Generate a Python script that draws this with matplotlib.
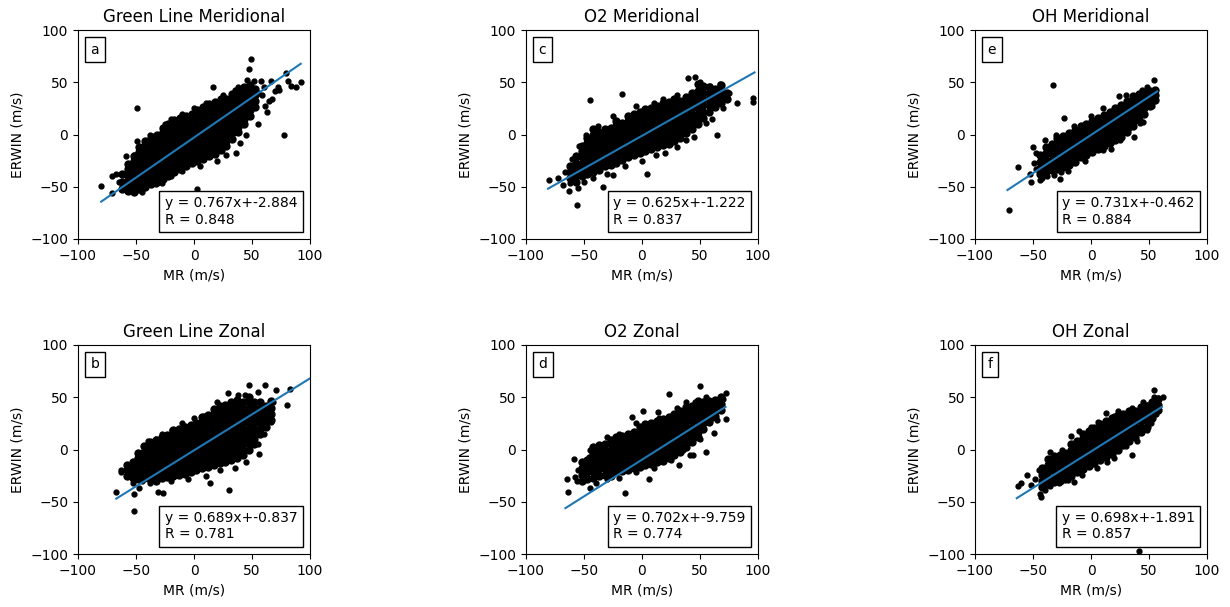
import matplotlib
matplotlib.use("Agg")
import matplotlib.pyplot as plt
from matplotlib.offsetbox import AnchoredText

# ---------------- data ----------------
titles = ["Green Line Meridional", "Green Line Zonal", "O2 Meridional",
          "O2 Zonal", "OH Meridional", "OH Zonal"]
letters = ["a", "b", "c", "d", "e", "f"]
slopes = [0.767, 0.689, 0.625, 0.702, 0.731, 0.698]
intercepts = [-2.884, -0.837, -1.222, -9.759, -0.462, -1.891]
r_values = [0.848, 0.781, 0.837, 0.774, 0.884, 0.857]
fit_ranges = [(-80, 92), (-67, 100), (-81, 97), (-66, 72), (-72, 57), (-64, 61)]

# dense cores: (MR column, [ERWIN values])
gl_mer_core = [
    (-62, [-52, -45, -38]),
    (-57, [-54, -49, -44, -39, -33, -28]),
    (-52, [-55, -50, -45, -40, -35, -30, -25, -21]),
    (-47, [-52, -47, -42, -37, -32, -27, -22, -17, -12]),
    (-42, [-50, -45, -40, -35, -30, -25, -20, -15, -10, -6]),
    (-37, [-47, -42, -37, -32, -27, -22, -17, -12, -7, -3]),
    (-32, [-45, -40, -35, -30, -25, -20, -15, -10, -5, 0]),
    (-27, [-43, -38, -33, -28, -23, -18, -13, -8, -3, 2, 6]),
    (-22, [-40, -35, -30, -25, -20, -15, -10, -5, 0, 5, 10]),
    (-17, [-36, -31, -26, -21, -16, -11, -6, -1, 4, 9, 14]),
    (-12, [-33, -28, -23, -18, -13, -8, -3, 2, 7, 12, 16]),
    (-7, [-30, -25, -20, -15, -10, -5, 0, 5, 10, 15, 18]),
    (-2, [-27, -22, -17, -12, -7, -2, 3, 8, 13, 18, 20]),
    (3, [-25, -20, -15, -10, -5, 0, 5, 10, 15, 20, 23]),
    (8, [-23, -18, -13, -8, -3, 2, 7, 12, 17, 22, 26]),
    (13, [-21, -16, -11, -6, -1, 4, 9, 14, 19, 24, 29]),
    (18, [-19, -14, -9, -4, 1, 6, 11, 16, 21, 26, 31]),
    (23, [-15, -10, -5, 0, 5, 10, 15, 20, 25, 30, 34]),
    (28, [-11, -6, -1, 4, 9, 14, 19, 24, 29, 34]),
    (33, [-4, 1, 6, 11, 16, 21, 26, 31, 36, 39]),
    (38, [2, 7, 12, 17, 22, 27, 32, 37, 41]),
    (43, [10, 15, 20, 25, 30, 35, 40, 45]),
    (48, [18, 23, 28, 33, 38, 43, 47]),
    (53, [26, 32, 38, 44]),
]
gl_mer_out = [(49, 72), (47, 63), (46, 52), (52, 51), (58, 51), (66, 51), (79, 59), (81, 51),
              (84, 46), (88, 45), (92, 50), (73, 43), (70, 42), (78, 0), (-49, 25), (16, 45),
              (35, 43), (36, -18), (3, -52), (-80, -49), (-71, -56), (-71, -40), (-67, -38),
              (-59, -21), (-49, -6), (63, 22), (61, 27), (67, 34), (59, 38), (-35, -1),
              (-65, -45), (-62, -50), (-58, -53), (-45, -55), (-40, -45), (-33, -47), (-28, -46),
              (-20, -40), (-10, -35), (5, -30), (20, -25), (28, -20), (40, -8), (45, 0), (55, 10),
              (-20, 15), (-10, 20), (0, 25), (10, 30), (25, 38), (38, 45), (60, 45), (65, 32),
              (72, 45), (55, 40), (-52, -20), (-38, 0), (-25, 10)]

gl_zon_core = [
    (-58, [-25, -20, -15]),
    (-53, [-27, -22, -17, -12]),
    (-48, [-28, -23, -18, -13, -8, -3]),
    (-43, [-27, -22, -17, -12, -7, -2, 3]),
    (-38, [-28, -23, -18, -13, -8, -3, 2, 7]),
    (-33, [-30, -25, -20, -15, -10, -5, 0, 5, 9]),
    (-28, [-27, -22, -17, -12, -7, -2, 3, 8, 12]),
    (-23, [-26, -21, -16, -11, -6, -1, 4, 9, 14]),
    (-18, [-25, -20, -15, -10, -5, 0, 5, 10, 15, 19]),
    (-13, [-24, -19, -14, -9, -4, 1, 6, 11, 16, 20]),
    (-8, [-23, -18, -13, -8, -3, 2, 7, 12, 17, 22]),
    (-3, [-22, -17, -12, -7, -2, 3, 8, 13, 18, 23]),
    (2, [-20, -15, -10, -5, 0, 5, 10, 15, 20, 25]),
    (7, [-18, -13, -8, -3, 2, 7, 12, 17, 22, 27, 31]),
    (12, [-17, -12, -7, -2, 3, 8, 13, 18, 23, 28, 33]),
    (17, [-15, -10, -5, 0, 5, 10, 15, 20, 25, 30, 35, 39]),
    (22, [-13, -8, -3, 2, 7, 12, 17, 22, 27, 32, 37, 42]),
    (27, [-12, -7, -2, 3, 8, 13, 18, 23, 28, 33, 38, 43]),
    (32, [-10, -5, 0, 5, 10, 15, 20, 25, 30, 35, 40, 45]),
    (37, [-8, -3, 2, 7, 12, 17, 22, 27, 32, 37, 42, 47]),
    (42, [-5, 0, 5, 10, 15, 20, 25, 30, 35, 40, 45]),
    (47, [0, 5, 10, 15, 20, 25, 30, 35, 40, 45, 50]),
    (52, [5, 10, 15, 20, 25, 30, 35, 40, 45]),
    (57, [15, 20, 25, 30, 35, 40, 45]),
    (62, [22, 27, 32, 37, 42]),
    (66, [28, 34, 40, 46]),
]
gl_zon_out = [(47, 62), (61, 62), (71, 57), (83, 58), (80, 43), (64, 41), (66, 26), (56, -4),
              (30, -39), (14, -32), (-27, -42), (-31, -41), (-52, -59), (-67, -41), (-63, -20),
              (-57, -15), (-52, -25), (-53, -32), (-52, -43), (-47, -37), (-33, 10), (-19, 19),
              (29, 54), (9, 32), (44, 52), (-63, -22), (-45, -30), (-38, -32), (-20, -30),
              (-5, -28), (10, -25), (22, -20), (35, -18), (45, -12), (55, 5), (60, 15), (65, 35),
              (68, 45), (55, 55), (38, 52), (20, 45), (0, 30), (-10, 25), (-28, 15), (-40, 8),
              (-45, -5)]

o2_mer_core = [
    (-62, [-42, -36, -30]),
    (-57, [-45, -39, -33, -27, -21]),
    (-52, [-40, -34, -28, -22, -16, -11]),
    (-47, [-38, -32, -26, -20, -14, -8, -3]),
    (-42, [-36, -30, -24, -18, -12, -6, 0, 5]),
    (-37, [-34, -28, -22, -16, -10, -4, 2]),
    (-32, [-30, -25, -20, -15, -10, -5, 0, 5]),
    (-27, [-29, -24, -19, -14, -9, -4, 1, 6]),
    (-22, [-27, -22, -17, -12, -7, -2, 3, 8, 13]),
    (-17, [-24, -19, -14, -9, -4, 1, 6, 11]),
    (-12, [-22, -17, -12, -7, -2, 3, 8, 13, 18]),
    (-7, [-20, -15, -10, -5, 0, 5, 10, 15, 20]),
    (-2, [-18, -13, -8, -3, 2, 7, 12, 17, 22]),
    (3, [-16, -11, -6, -1, 4, 9, 14, 19, 24]),
    (8, [-14, -9, -4, 1, 6, 11, 16, 21, 25]),
    (13, [-12, -7, -2, 3, 8, 13, 18, 23, 27]),
    (18, [-10, -5, 0, 5, 10, 15, 20, 25, 30]),
    (23, [-9, -4, 1, 6, 11, 16, 21, 26, 31]),
    (28, [-6, -1, 4, 9, 14, 19, 24, 29, 34]),
    (33, [-3, 2, 7, 12, 17, 22, 27, 32]),
    (38, [1, 6, 11, 16, 21, 26, 31, 36]),
    (43, [5, 10, 15, 20, 25, 30, 35, 40]),
    (48, [10, 15, 20, 25, 30, 35, 42, 48]),
    (53, [16, 22, 28, 34, 40, 46]),
    (58, [22, 28, 34, 40, 45]),
    (63, [26, 32, 38, 44]),
    (68, [30, 36, 42, 47]),
    (73, [34, 40]),
]
o2_mer_out = [(-80, -44), (-55, -51), (-56, -67), (-63, -54), (-62, -46), (-72, -42), (-45, 33),
              (-17, 39), (40, 54), (46, 55), (59, 46), (67, 48), (82, 30), (96, 35), (96, 31),
              (65, 0), (38, -5), (20, -18), (4, -38), (-34, -50), (-25, -39), (18, 34), (55, 11),
              (-54, -11), (-60, -23), (-68, -48), (-66, -36), (-50, -45), (-42, -42), (-30, -38),
              (-15, -30), (0, -25), (12, -20), (30, -12), (45, -2), (60, 15), (70, 25), (75, 40),
              (50, 50), (30, 38), (10, 30), (-5, 27), (-25, 18), (-38, 8), (-48, 0)]

o2_zon_core = [
    (-52, [-30, -24, -18, -12]),
    (-47, [-28, -22, -16, -10]),
    (-42, [-27, -21, -15, -9, -3, 2]),
    (-37, [-25, -19, -13, -7, -1, 4]),
    (-32, [-24, -18, -12, -6, 0, 5]),
    (-27, [-25, -20, -15, -10, -5, 0, 5, 9]),
    (-22, [-22, -17, -12, -7, -2, 3, 8, 12]),
    (-17, [-21, -16, -11, -6, -1, 4, 9, 13]),
    (-12, [-20, -15, -10, -5, 0, 5, 10, 15]),
    (-7, [-18, -13, -8, -3, 2, 7, 12, 17]),
    (-2, [-17, -12, -7, -2, 3, 8, 13, 18, 22]),
    (3, [-15, -10, -5, 0, 5, 10, 15, 20, 24]),
    (8, [-14, -9, -4, 1, 6, 11, 16, 21, 25]),
    (13, [-12, -7, -2, 3, 8, 13, 18, 23, 27]),
    (18, [-11, -6, -1, 4, 9, 14, 19, 24, 29]),
    (23, [-8, -3, 2, 7, 12, 17, 22, 27, 31]),
    (28, [-5, 0, 5, 10, 15, 20, 25, 30, 34]),
    (33, [-2, 3, 8, 13, 18, 23, 28, 33, 37]),
    (38, [2, 7, 12, 17, 22, 27, 32, 37, 41]),
    (43, [7, 12, 17, 22, 27, 32, 37, 42]),
    (48, [12, 17, 22, 27, 32, 37, 42, 46]),
    (53, [20, 25, 30, 35, 40, 45]),
    (58, [26, 31, 36, 41, 46]),
    (63, [32, 37, 42, 47]),
    (68, [38, 44, 50]),
]
o2_zon_out = [(-65, -28), (-64, -41), (-59, -9), (-56, -30), (-58, -26), (-50, -15), (-46, -7),
              (-45, -37), (-15, -42), (-9, 31), (1, 37), (14, 36), (23, 53), (50, 61), (72, 54),
              (72, 29), (65, 28), (62, 16), (55, -2), (32, -15), (6, -28), (20, -5), (41, -5),
              (44, -5), (-38, 2), (38, 45), (46, 45), (-55, -20), (-40, -32), (-30, -28),
              (-20, -27), (-5, -22), (10, -18), (25, -10), (35, 0), (50, 10), (60, 30), (66, 40),
              (70, 48), (55, 50), (30, 40), (15, 30), (-5, 25), (-20, 15), (-30, 12), (-45, 0)]

oh_mer_core = [
    (-44, [-38, -32, -26, -20]),
    (-39, [-36, -30, -24, -18, -12]),
    (-34, [-34, -29, -24, -19, -14, -9]),
    (-29, [-33, -28, -23, -18, -13, -8, -3]),
    (-24, [-31, -26, -21, -16, -11, -6, -1]),
    (-19, [-29, -24, -19, -14, -9, -4, 1]),
    (-14, [-26, -21, -16, -11, -6, -1, 4]),
    (-9, [-22, -17, -12, -7, -2, 3, 8]),
    (-4, [-20, -15, -10, -5, 0, 5, 10]),
    (1, [-17, -12, -7, -2, 3, 8, 13]),
    (6, [-14, -9, -4, 1, 6, 11, 16]),
    (11, [-11, -6, -1, 4, 9, 14, 19]),
    (16, [-8, -3, 2, 7, 12, 17, 22]),
    (21, [-5, 0, 5, 10, 15, 20, 25]),
    (26, [-2, 3, 8, 13, 18, 23, 28]),
    (31, [2, 7, 12, 17, 22, 27, 32]),
    (36, [8, 13, 18, 23, 28, 33, 37]),
    (41, [14, 19, 24, 29, 34, 39]),
    (46, [20, 25, 30, 35, 40]),
    (51, [27, 32, 37, 42]),
    (55, [33, 38, 43]),
]
oh_mer_out = [(-71, -72), (-63, -31), (-33, 47), (-23, 16), (-53, -38), (-52, -45), (-49, -27),
              (-47, -18), (-42, -42), (-44, -44), (-32, -39), (-27, -43), (-26, -36), (17, -14),
              (24, 37), (54, 52), (44, 43), (37, -2), (33, 6), (42, 11), (53, 27), (53, 30),
              (-50, -12), (-40, -5), (-30, 0), (-15, 8), (0, 18), (10, 25), (30, 38), (48, 45),
              (52, 40), (45, 12), (25, -5), (10, -15), (-5, -25), (-20, -35), (-38, -40),
              (-47, -33)]

oh_zon_core = [
    (-42, [-36, -30, -24, -18]),
    (-37, [-33, -27, -21, -15, -9]),
    (-32, [-31, -26, -21, -16, -11, -6]),
    (-27, [-30, -25, -20, -15, -10, -5]),
    (-22, [-28, -23, -18, -13, -8, -3]),
    (-17, [-25, -20, -15, -10, -5, 0, 5]),
    (-12, [-22, -17, -12, -7, -2, 3, 8]),
    (-7, [-19, -14, -9, -4, 1, 6, 11, 15]),
    (-2, [-16, -11, -6, -1, 4, 9, 14, 18]),
    (3, [-13, -8, -3, 2, 7, 12, 17, 21]),
    (8, [-10, -5, 0, 5, 10, 15, 20, 24]),
    (13, [-7, -2, 3, 8, 13, 18, 23, 27]),
    (18, [-4, 1, 6, 11, 16, 21, 26, 30]),
    (23, [0, 5, 10, 15, 20, 25, 30, 33]),
    (28, [4, 9, 14, 19, 24, 29, 34]),
    (33, [8, 13, 18, 23, 28, 33, 37]),
    (38, [12, 17, 22, 27, 32, 37]),
    (43, [17, 22, 27, 32, 37, 41]),
    (48, [22, 27, 32, 37, 42]),
    (53, [30, 35, 40, 45]),
    (58, [38, 43, 48]),
]
oh_zon_out = [(41, -97), (54, 57), (54, 50), (58, 49), (62, 50), (48, 43), (23, 37), (13, 35),
              (6, 26), (-63, -35), (-60, -32), (-55, -24), (-52, -34), (-44, -43), (-43, -45),
              (-40, -39), (-38, -16), (-15, -31), (-20, -29), (35, -5), (30, 3), (14, -12),
              (48, 19), (56, 34), (-17, 13), (-48, -28), (-45, -20), (-35, -35), (-28, -32),
              (-8, -24), (5, -18), (20, -8), (40, 8), (52, 25), (57, 42), (45, 45), (35, 40),
              (20, 32), (0, 22), (-10, 18), (-25, 0), (-35, -2)]

cores = [gl_mer_core, gl_zon_core, o2_mer_core, o2_zon_core, oh_mer_core, oh_zon_core]
outs = [gl_mer_out, gl_zon_out, o2_mer_out, o2_zon_out, oh_mer_out, oh_zon_out]

# ---------------- layout ----------------
W, H = 1230, 607
fig = plt.figure(figsize=(W / 100, H / 100), dpi=100)
col_left = [78, 526, 975]
row_top = [30, 345]
aw, ah = 232, 209

# panel order: a,c,e on top row; b,d,f bottom row
positions = {0: (0, 0), 1: (1, 0), 2: (0, 1), 3: (1, 1), 4: (0, 2), 5: (1, 2)}

for i in range(6):
    r, c = positions[i]
    left = col_left[c] / W
    bottom = (H - row_top[r] - ah) / H
    ax = fig.add_axes([left, bottom, aw / W, ah / H])

    cx, cy = [], []
    for xc, yl in cores[i]:
        for yv in yl:
            cx.append(xc)
            cy.append(yv)
    ox = [p[0] for p in outs[i]]
    oy = [p[1] for p in outs[i]]

    ax.plot(cx, cy, 'k.', markersize=10)
    ax.plot(ox, oy, 'k.', markersize=7)
    x0, x1 = fit_ranges[i]
    ax.plot([x0, x1], [slopes[i] * x0 + intercepts[i], slopes[i] * x1 + intercepts[i]],
            color='C0')
    ax.set_xlim(-100, 100)
    ax.set_ylim(-100, 100)
    ax.set_xticks([-100, -50, 0, 50, 100])
    ax.set_yticks([-100, -50, 0, 50, 100])
    ax.set_title(titles[i])
    ax.set_xlabel("MR (m/s)")
    ax.set_ylabel("ERWIN (m/s)")

    lab = AnchoredText(letters[i], loc='upper left', prop=dict(size=10))
    ax.add_artist(lab)
    txt = "y = {:.3f}x+{:.3f}\nR = {:.3f}".format(slopes[i], intercepts[i], r_values[i])
    stat = AnchoredText(txt, loc='lower right', prop=dict(size=10))
    ax.add_artist(stat)

fig.savefig("out.png", dpi=100)
